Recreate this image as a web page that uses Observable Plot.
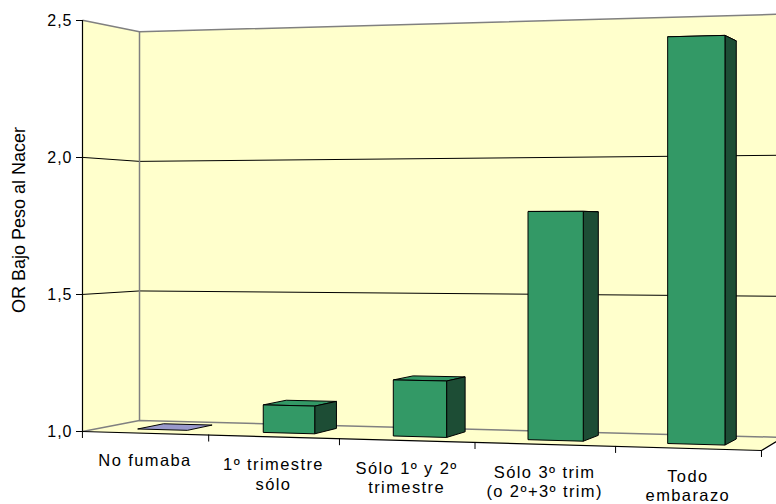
<!DOCTYPE html>
<html>
<head>
<meta charset="utf-8">
<script src="https://cdn.jsdelivr.net/npm/d3@7"></script>
<script src="https://cdn.jsdelivr.net/npm/@observablehq/plot@0.6"></script>
<style>
  html, body { margin: 0; padding: 0; background: #fff; overflow: hidden; }
  #chart svg { overflow: hidden; display: block; }
  g[aria-label="y-axis tick label"] text { letter-spacing: 1px; }
  g[aria-description="category label"] text { letter-spacing: 1.4px; }
</style>
</head>
<body>
<div id="chart"></div>
<script>
// ---- data ----
const categories = ["No fumaba", "1º trimestre\nsólo", "Sólo 1º y 2º\ntrimestre", "Sólo 3º trim\n(o 2º+3º trim)", "Todo\nembarazo"];
const values = [1.0, 1.1, 1.2, 1.8, 2.4];
const yTicks = [1.0, 1.5, 2.0, 2.5];
const yTitle = "OR Bajo Peso al Nacer";

// ---- styles ----
const WALL = "#ffffcc", FRONT = "#339966", SIDE = "#1d4d35", PLATE = "#9999cc", EDGE = "#808080";
const FONT = "'Liberation Sans', Arial, sans-serif";

// ---- 3D perspective (front plane maps to Plot's x/y scales) ----
const Y0 = d3.min(yTicks), Y1 = d3.max(yTicks), N = categories.length;
const frame = {left: 82, right: 761, bottom: 431, top: 20};
const cam = {cx: 388, cy: 230, f: 2349, cos: Math.cos(0.304), sin: Math.sin(0.304),
             p0: [-130.3, -85.57, 1000], unit: 57.72, H: 116.7, D: 60.68};
function project(X, v, t) {
  const xc = cam.p0[0] + X * cam.unit * cam.cos + t * cam.D * cam.sin;
  const yc = cam.p0[1] + (v - Y0) * cam.H;
  const zc = cam.p0[2] - X * cam.unit * cam.sin + t * cam.D * cam.cos;
  const sx = cam.cx + cam.f * xc / zc, sy = cam.cy - cam.f * yc / zc;
  return {x: (sx - frame.left) / (frame.right - frame.left) * N,
          y: Y0 + (frame.bottom - sy) * (Y1 - Y0) / (frame.bottom - frame.top)};
}
function poly(id, corners, fill, close = true) {
  const pts = corners.map(([X, v, t]) => ({id, fill, ...project(X, v, t)}));
  if (close) pts.push({...pts[0]});
  return pts;
}

// walls
const walls = [
  ...poly("back", [[0, Y0, 1], [N, Y0, 1], [N, Y1, 1], [0, Y1, 1]], WALL),
  ...poly("left", [[0, Y0, 0], [0, Y0, 1], [0, Y1, 1], [0, Y1, 0]], WALL),
  ...poly("floor", [[0, Y0, 0], [N, Y0, 0], [N, Y0, 1], [0, Y0, 1]], WALL)
];
const gridLines = yTicks.filter(v => v > Y0 && v < Y1)
  .flatMap(v => poly("g" + v, [[0, v, 0], [0, v, 1], [N, v, 1]], null, false));
const wallEdges = [
  ...poly("top", [[0, Y1, 0], [0, Y1, 1], [N, Y1, 1]], null, false),
  ...poly("bottom", [[0, Y0, 0], [0, Y0, 1], [N, Y0, 1]], null, false),
  ...poly("corner", [[0, Y0, 1], [0, Y1, 1]], null, false)
];

// bars
const gap = 0.3, tf = 0.31, tb = 0.78;
const tops = [], sides = [], fronts = [];
values.forEach((v, i) => {
  const xl = i + gap, xr = i + 1 - gap;
  tops.push(...poly("t" + i, [[xl, v, tf], [xr, v, tf], [xr, v, tb], [xl, v, tb]], v === Y0 ? PLATE : FRONT));
  if (v > Y0) {
    sides.push(...poly("s" + i, [[xr, Y0, tf], [xr, Y0, tb], [xr, v, tb], [xr, v, tf]], SIDE));
    fronts.push(...poly("f" + i, [[xl, Y0, tf], [xr, Y0, tf], [xr, v, tf], [xl, v, tf]], FRONT));
  }
});

// floor front/right edges and category ticks
const floorEdge = poly("edge", [[0, Y0, 0], [N, Y0, 0], [N, Y0, 1]], null, false);
const tickLen = 7 * (Y1 - Y0) / (frame.bottom - frame.top);
const catTicks = d3.range(N + 1).map(k => project(k, Y0, 0));
const labels = categories.map((c, i) => ({text: c, ...project(i + 0.5, Y0, 0)}));

const polyMark = (data, opts) => Plot.line(data, {x: "x", y: "y", z: "id", curve: "linear",
  strokeLinejoin: "miter", strokeLinecap: "butt", ...opts});

const chart = Plot.plot({
  width: 776, height: 504,
  marginLeft: frame.left, marginTop: frame.top, marginBottom: 504 - frame.bottom, marginRight: 0,
  style: {fontFamily: FONT, background: "#fff", color: "#000"},
  x: {domain: [0, N], range: [frame.left, frame.right], axis: null},
  y: {domain: [Y0, Y1], range: [frame.bottom, frame.top], axis: null},
  marks: [
    polyMark(walls, {fill: WALL, stroke: "none"}),
    polyMark(gridLines, {stroke: "#000", strokeWidth: 1}),
    polyMark(wallEdges, {stroke: EDGE, strokeWidth: 1.5}),
    polyMark(tops, {fill: "fill", stroke: "#000", strokeWidth: 1}),
    polyMark(sides, {fill: "fill", stroke: "#000", strokeWidth: 1}),
    polyMark(fronts, {fill: "fill", stroke: "#000", strokeWidth: 1}),
    polyMark(floorEdge, {stroke: "#000", strokeWidth: 1.2}),
    Plot.ruleX(catTicks, {x: "x", y1: "y", y2: d => d.y - tickLen, stroke: "#000", strokeWidth: 1}),
    Plot.ruleX([0], {y1: Y0, y2: Y1, stroke: "#000", strokeWidth: 1.2}),
    Plot.axisY({anchor: "left", ticks: yTicks, tickSize: 6, tickPadding: 4, fontSize: 16,
      tickFormat: d => d.toFixed(1).replace(".", ","), label: null, stroke: "#000"}),
    Plot.text(labels, {x: "x", y: "y", text: "text", lineAnchor: "top", dy: 19, fontSize: 16.5,
      lineHeight: 1.2, textAnchor: "middle", fill: "#000", ariaDescription: "category label"}),
    Plot.text([yTitle], {frameAnchor: "left", rotate: -90, dx: -58, dy: -6, fontSize: 18,
      lineAnchor: "bottom", textAnchor: "middle", fill: "#000"})
  ]
});
document.getElementById("chart").appendChild(chart);
</script>
</body>
</html>
